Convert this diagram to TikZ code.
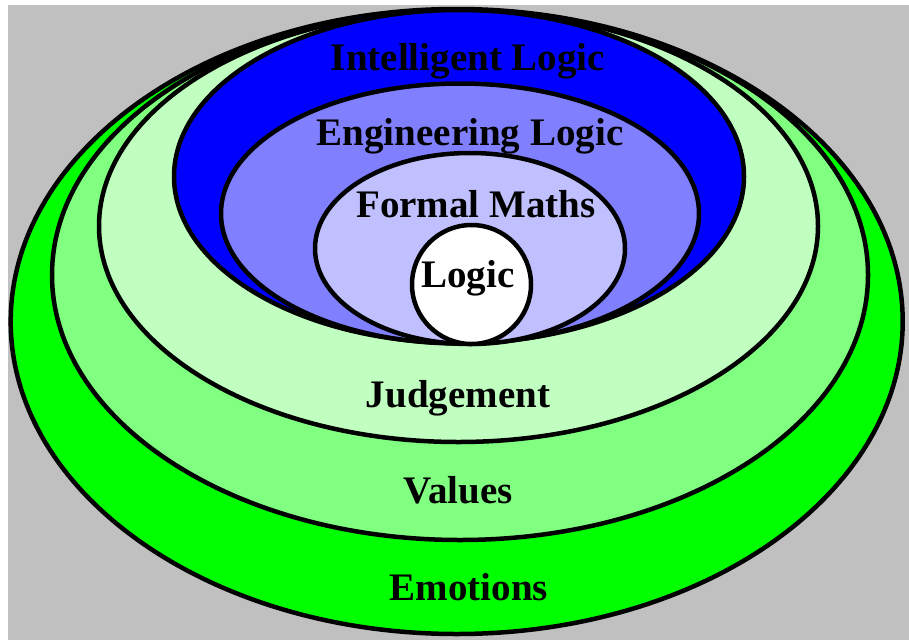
\documentclass[tikz,border=0pt]{standalone}
\usepackage{fontspec}
\setmainfont{Liberation Serif}
\definecolor{bggray}{HTML}{C0C0C0}
\definecolor{emo}{HTML}{00FF00}
\definecolor{val}{HTML}{80FF80}
\definecolor{jud}{HTML}{C0FFC0}
\definecolor{intl}{HTML}{0000FF}
\definecolor{eng}{HTML}{8080FF}
\definecolor{fml}{HTML}{C0C0FF}
\begin{document}
\begin{tikzpicture}[x=1pt,y=-1pt,
  ring/.style={draw=black,line width=4.5pt},
  lbl/.style={anchor=base,inner sep=0pt,font=\fontsize{39}{39}\selectfont\bfseries}]
\useasboundingbox (0,0) rectangle (909,640);
\fill[white] (0,0) rectangle (909,640);
\fill[bggray] (8,5) rectangle (909,640);
% outer to inner
\path[ring,fill=emo]  (456.7,321.5) ellipse [x radius=446,  y radius=312.5];
\path[ring,fill=val]  (460,275)     ellipse [x radius=408,  y radius=265];
\path[ring,fill=jud]  (458.5,226)   ellipse [x radius=359.5,y radius=216];
\path[ring,fill=intl] (459,176.5)   ellipse [x radius=285,  y radius=166.5];
\path[ring,fill=eng]  (460,213.5)   ellipse [x radius=239,  y radius=130];
\path[ring,fill=fml]  (470,248.5)   ellipse [x radius=155,  y radius=95.5];
\path[ring,fill=white](471.5,284.5) ellipse [x radius=59.5, y radius=59.5];
% labels
\node[lbl] (tIntl) at (468,70)  {Intelligent Logic};
\node[lbl] (tEng)  at (470,145) {Engineering Logic};
\node[lbl] (tFml)  at (476,217) {Formal Maths};
\node[lbl] (tLog)  at (468,287) {Logic};
\node[lbl] (tJud)  at (458,407) {Judgement};
\node[lbl] (tVal)  at (458,503) {Values};
\node[lbl] (tEmo)  at (469,600) {Emotions};
\end{tikzpicture}
\end{document}
